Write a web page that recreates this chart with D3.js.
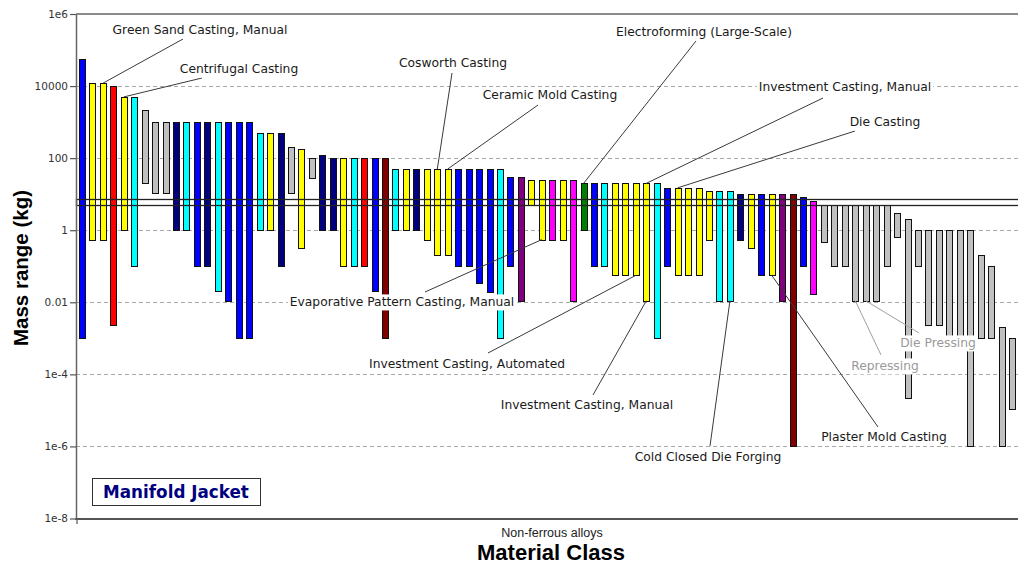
<!DOCTYPE html>
<html>
<head>
<meta charset="utf-8">
<script src="https://cdn.jsdelivr.net/npm/d3@7"></script>
<style>
  body { margin: 0; background: #fff; }
  svg { display: block; }
  .lbl { font-family: "DejaVu Sans", sans-serif; font-size: 12.3px; fill: #1a1a1a; }
  .lbl.faint { fill: #9a9a9a; }
</style>
</head>
<body>
<div id="chart"></div>
<script>
// one bar per process, in plotted order (lower / upper mass limit, kg)
var massMin = [0.001, 0.55, 0.55, 0.0023, 1, 0.1, 21, 11, 11, 1,
               1, 0.1, 0.1, 0.02, 0.011, 0.001, 0.001, 1, 1, 0.1,
               11, 0.33, 28, 1, 1, 0.1, 0.1, 0.1, 0.02, 0.001,
               1, 1, 1, 0.55, 0.21, 0.21, 0.1, 0.1, 0.034, 0.019,
               0.001, 0.1, 0.011, 5, 0.55, 0.55, 0.55, 0.011, 1, 0.1,
               0.1, 0.056, 0.056, 0.056, 0.011, 0.001, 0.1, 0.056, 0.056, 0.056,
               0.55, 0.011, 0.011, 0.55, 0.33, 0.056, 0.056, 0.011, 1e-6, 0.1,
               0.017, 0.46, 0.1, 0.1, 0.011, 0.011, 0.011, 0.1, 0.65, 2.2e-5,
               0.1, 0.0023, 0.0023, 0.001, 0.001, 1e-6, 0.001, 0.001, 1e-6, 1.1e-5];
var massMax = [56000, 12000, 12000, 10000, 5000, 5000, 2100, 1000, 1000, 1000,
               1000, 1000, 1000, 1000, 1000, 1000, 1000, 500, 500, 500,
               200, 180, 100, 120, 100, 100, 100, 100, 100, 100,
               50, 50, 50, 50, 50, 50, 50, 50, 50, 50,
               50, 30, 30, 25, 25, 25, 25, 25, 20, 20,
               20, 20, 20, 20, 20, 20, 15, 15, 15, 15,
               12, 12, 12, 10, 10, 10, 10, 10, 10, 8.5,
               6.5, 5, 5, 5, 5, 5, 5, 5, 3, 2,
               1, 1, 1, 1, 1, 1, 0.2, 0.1, 0.002, 0.001];
// process family code of each bar
var family = ["bl","ye","ye","re","ye","cy","gr","gr","gr","nv",
              "cy","bl","nv","cy","bl","bl","bl","cy","ye","nv",
              "gr","ye","gr","nv","nv","ye","cy","re","bl","mr",
              "cy","ye","nv","ye","ye","ye","bl","bl","bl","bl",
              "cy","bl","pu","ye","ye","mg","ye","mg","gn","bl",
              "cy","ye","ye","ye","ye","cy","bl","ye","ye","ye",
              "ye","cy","cy","nv","ye","bl","ye","pu","mr","bl",
              "mg","gr","gr","gr","gr","gr","gr","gr","gr","gr",
              "gr","gr","gr","gr","gr","gr","gr","gr","gr","gr"];
var familyKeys = ["bl","ye","re","cy","gr","nv","mr","pu","mg","gn"];
var familyColors = ["#0000ff","#ffff00","#ff0000","#00ffff","#c0c0c0","#000080","#800000","#800080","#ff00ff","#008000"];

// target mass window (kg)
var targetMass = [5, 7.4];

var yTicks = [1e6, 1e4, 100, 1, 0.01, 1e-4, 1e-6, 1e-8];
var yTickLabels = ["1e6", "10000", "100", "1", "0.01", "1e-4", "1e-6", "1e-8"];

// labelled processes: text, bar index, end of the bar the leader points at
var labelText = ["Green Sand Casting, Manual", "Centrifugal Casting", "Cosworth Casting",
                 "Ceramic Mold Casting", "Electroforming (Large-Scale)", "Investment Casting, Manual",
                 "Die Casting", "Evaporative Pattern Casting, Manual", "Investment Casting, Automated",
                 "Investment Casting, Manual", "Cold Closed Die Forging", "Plaster Mold Casting",
                 "Repressing", "Die Pressing"];
var labelBar = [2, 4, 34, 35, 48, 54, 57, 44, 53, 54, 62, 66, 74, 75];
var labelEnd = ["max","max","max","max","max","max","max","min","min","min","min","min","min","min"];

var width = 1018, height = 565;
var plot = {left: 76, right: 1018, top: 14, bottom: 519};

// where each label sits on the page (centre x, centre y, leader start)
var labelPlace = [
    {cx: 200, cy: 30, lx: 183, ly: 39},
    {cx: 239, cy: 69, lx: 202, ly: 78},
    {cx: 453, cy: 63, lx: 452, ly: 73},
    {cx: 550, cy: 95, lx: 538, ly: 105},
    {cx: 704, cy: 32, lx: 696, ly: 41},
    {cx: 845, cy: 87, lx: 823, ly: 98},
    {cx: 885, cy: 122, lx: 855, ly: 131},
    {cx: 402, cy: 302, lx: 425, ly: 292},
    {cx: 467, cy: 364, lx: 488, ly: 353},
    {cx: 587, cy: 405, lx: 593, ly: 395},
    {cx: 708, cy: 457, lx: 710, ly: 446},
    {cx: 884, cy: 437, lx: 878, ly: 427},
    {cx: 885, cy: 366, lx: 881, ly: 355, faint: true},
    {cx: 938, cy: 343, lx: 919, ly: 333, faint: true}
];

var svg = d3.select("#chart").append("svg")
    .attr("width", width)
    .attr("height", height);

var x = d3.scaleBand()
    .domain(d3.range(massMin.length))
    .range([76.8, 1017.3])
    .paddingInner(0.42)
    .paddingOuter(0.21);

var y = d3.scaleLog()
    .domain([1e-8, 1e6])
    .range([plot.bottom - 0.5, plot.top]);

var color = d3.scaleOrdinal().domain(familyKeys).range(familyColors);

// grid
svg.append("g")
    .selectAll("line")
    .data(yTicks.slice(1, -1))
    .enter().append("line")
    .attr("x1", plot.left).attr("x2", plot.right)
    .attr("y1", function(d){ return Math.round(y(d)) + 0.5; })
    .attr("y2", function(d){ return Math.round(y(d)) + 0.5; })
    .attr("stroke", "#a8a8a8")
    .attr("stroke-dasharray", "4,3");

// bars
svg.append("g")
    .selectAll("rect")
    .data(massMin)
    .enter().append("rect")
    .attr("x", function(d, i){ return Math.round(x(i)) + 0.5; })
    .attr("width", Math.round(x.bandwidth()))
    .attr("y", function(d, i){ return Math.round(y(massMax[i])) + 0.5; })
    .attr("height", function(d, i){ return Math.round(y(d)) - Math.round(y(massMax[i])); })
    .attr("fill", function(d, i){ return color(family[i]); })
    .attr("stroke", "#111")
    .attr("stroke-width", 1);

// target window
svg.append("rect")
    .attr("x", plot.left + 0.5)
    .attr("y", Math.round(y(targetMass[1])) + 0.5)
    .attr("width", plot.right - plot.left + 20)
    .attr("height", Math.round(y(targetMass[0])) - Math.round(y(targetMass[1])))
    .attr("fill", "none")
    .attr("stroke", "#222")
    .attr("stroke-width", 1.3);

// axis frame
var yAxis = d3.axisLeft(y)
    .tickValues(yTicks)
    .tickFormat(function(d, i){ return yTickLabels[i]; })
    .tickSizeInner(6)
    .tickSizeOuter(0)
    .tickPadding(2);

var ya = svg.append("g")
    .attr("transform", "translate(" + plot.left + ",0)")
    .call(yAxis);
ya.select(".domain").attr("stroke", "#666").attr("stroke-width", 1.5);
ya.selectAll(".tick line").attr("stroke", "#555").attr("stroke-width", 1.2);
ya.selectAll(".tick text")
    .attr("fill", "#333")
    .style("font-family", "DejaVu Sans, sans-serif")
    .style("font-size", "10.5px");

svg.append("line")
    .attr("x1", plot.left).attr("x2", plot.right)
    .attr("y1", plot.top).attr("y2", plot.top)
    .attr("stroke", "#666").attr("stroke-width", 1.5);
svg.append("line")
    .attr("x1", plot.left - 0.75).attr("x2", plot.right)
    .attr("y1", plot.bottom).attr("y2", plot.bottom)
    .attr("stroke", "#555").attr("stroke-width", 1.8);
svg.append("line")
    .attr("x1", plot.left + 1).attr("x2", plot.left + 1)
    .attr("y1", plot.bottom).attr("y2", plot.bottom + 5)
    .attr("stroke", "#555").attr("stroke-width", 1.2);

// leaders
svg.append("g")
    .selectAll("line")
    .data(labelPlace)
    .enter().append("line")
    .attr("x1", function(d){ return d.lx; })
    .attr("y1", function(d){ return d.ly; })
    .attr("x2", function(d, i){ return x(labelBar[i]) + x.bandwidth() / 2; })
    .attr("y2", function(d, i){
        var b = labelBar[i];
        return labelEnd[i] == "max" ? y(massMax[b]) : y(massMin[b]);
    })
    .attr("stroke", function(d){ return d.faint ? "#a0a0a0" : "#3a3a3a"; })
    .attr("stroke-width", 1);

// labels with white backing
var lg = svg.append("g")
    .selectAll("g")
    .data(labelPlace)
    .enter().append("g")
    .attr("transform", function(d){ return "translate(" + d.cx + "," + d.cy + ")"; });

lg.append("text")
    .attr("class", function(d){ return d.faint ? "lbl faint" : "lbl"; })
    .attr("text-anchor", "middle")
    .attr("dy", "0.36em")
    .text(function(d, i){ return labelText[i]; });

lg.each(function(){
    var g = d3.select(this);
    var bb = g.select("text").node().getBBox();
    g.insert("rect", "text")
        .attr("x", bb.x - 2).attr("y", bb.y - 1)
        .attr("width", bb.width + 4).attr("height", bb.height + 2)
        .attr("fill", "#fff");
});

// axis titles
svg.append("text")
    .attr("transform", "translate(28,268) rotate(-90)")
    .attr("text-anchor", "middle")
    .style("font-family", "Liberation Sans, Arial, sans-serif")
    .style("font-weight", "bold")
    .style("font-size", "20.5px")
    .text("Mass range (kg)");

svg.append("text")
    .attr("x", 552).attr("y", 537)
    .attr("text-anchor", "middle")
    .style("font-family", "Liberation Sans, Arial, sans-serif")
    .style("font-size", "12.5px")
    .attr("fill", "#222")
    .text("Non-ferrous alloys");

svg.append("text")
    .attr("x", 551).attr("y", 560)
    .attr("text-anchor", "middle")
    .style("font-family", "Liberation Sans, Arial, sans-serif")
    .style("font-weight", "bold")
    .style("font-size", "22px")
    .text("Material Class");

// chart title box
var tb = svg.append("g").attr("transform", "translate(92,478)");
tb.append("rect")
    .attr("x", 0.5).attr("y", 0.5)
    .attr("width", 168).attr("height", 27)
    .attr("fill", "#fff")
    .attr("stroke", "#333")
    .attr("stroke-width", 1);
tb.append("text")
    .attr("x", 84).attr("y", 20)
    .attr("text-anchor", "middle")
    .attr("fill", "#000080")
    .style("font-family", "DejaVu Sans, sans-serif")
    .style("font-weight", "bold")
    .style("font-size", "16.8px")
    .text("Manifold Jacket");
</script>
</body>
</html>
